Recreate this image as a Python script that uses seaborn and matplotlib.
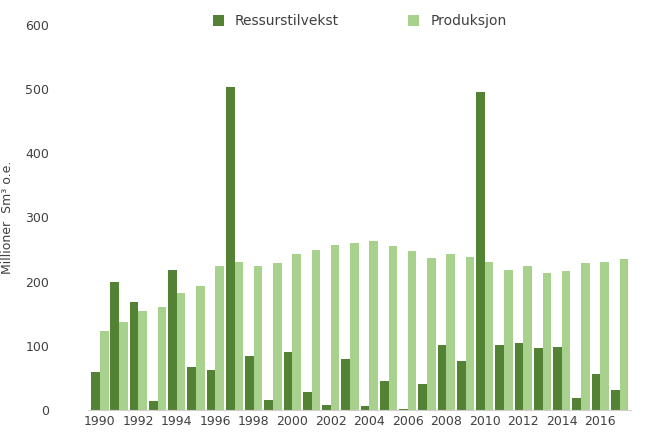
import matplotlib
matplotlib.use("Agg")
import matplotlib.pyplot as plt
import seaborn as sns
import pandas as pd

years = list(range(1990, 2018))
ressurstilvekst = [60, 199, 168, 15, 218, 67, 63, 503, 84, 16, 91, 28, 8, 79,
                   6, 46, 2, 41, 102, 77, 496, 102, 104, 97, 99, 19, 56, 32]
produksjon = [124, 138, 154, 161, 182, 194, 224, 231, 224, 229, 243, 250, 257, 260,
              263, 256, 248, 237, 243, 239, 230, 218, 225, 214, 217, 229, 231, 235]

df = pd.DataFrame({"year": years, "Ressurstilvekst": ressurstilvekst, "Produksjon": produksjon})
df = df.melt(id_vars="year", var_name="serie", value_name="verdi")

fig = plt.figure(figsize=(6.54, 4.42), dpi=100)
ax = fig.add_axes([0.135, 0.072, 0.83, 0.872])
sns.barplot(data=df, x="year", y="verdi", hue="serie",
            palette=["#548235", "#a9d18e"], width=0.9, ax=ax, saturation=1)

ax.set_ylim(0, 600)
ax.set_yticks(range(0, 601, 100))
ax.set_xlim(-0.6, 27.6)
ax.set_xticks(range(0, 28, 2))
ax.set_xticklabels([str(y) for y in years[::2]])
ax.set_xlabel("")
ax.set_ylabel("Millioner  Sm³ o.e.", fontsize=9, color="#404040", labelpad=8)
ax.tick_params(axis="both", length=0, labelsize=9, colors="#404040")
ax.tick_params(axis="y", pad=28)
for s in ["top", "right", "left"]:
    ax.spines[s].set_visible(False)
ax.spines["bottom"].set_color("#d0d0d0")

ax.legend(loc="upper center", bbox_to_anchor=(0.5, 1.06), ncol=2, frameon=False,
          fontsize=10, handlelength=0.8, handleheight=0.8, columnspacing=5,
          labelcolor="#404040")

fig.savefig("out.png", dpi=100)
